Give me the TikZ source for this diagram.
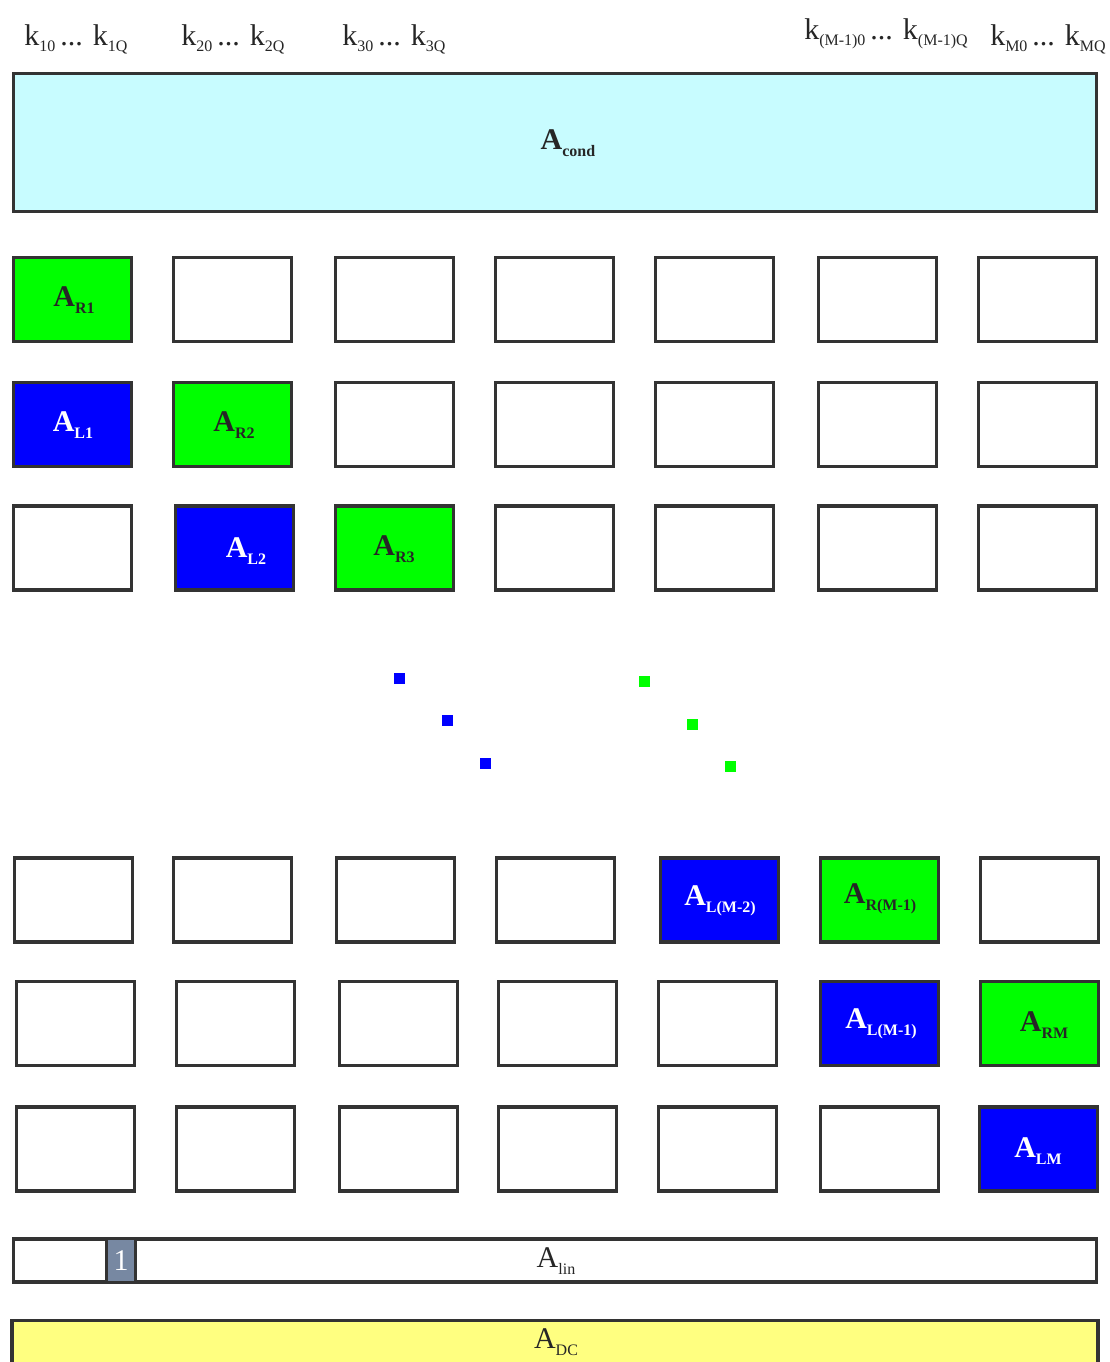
\documentclass[tikz,border=0pt]{standalone}
\usepackage{fontspec}
\setmainfont{Liberation Serif}
\definecolor{edge}{HTML}{333333}
\definecolor{condc}{HTML}{C8FCFF}
\definecolor{gr}{HTML}{00FF00}
\definecolor{bl}{HTML}{0000FF}
\definecolor{slate}{HTML}{7788A2}
\definecolor{dcc}{HTML}{FFFF80}
\newcommand\ksub[1]{\raisebox{-6pt}{\fontsize{16}{16}\selectfont #1}}
\newcommand\klab[2]{k\ksub{#1}\,... k\ksub{#2}}
\newcommand\Alab[1]{\textbf{A\raisebox{-7pt}{\fontsize{16}{16}\selectfont #1}}}
\begin{document}
\begin{tikzpicture}[x=1pt,y=-1pt,
  cell/.style={draw=edge,line width=3.5pt,minimum width=118pt,minimum height=84pt,inner sep=0pt,fill=white},
  gcell/.style={cell,fill=gr},
  bcell/.style={cell,fill=bl},
  glab/.style={text=black!85,font=\fontsize{30}{30}\selectfont,inner sep=0pt},
  blab/.style={text=white,font=\fontsize{30}{30}\selectfont,inner sep=0pt},
  ktext/.style={font=\fontsize{30}{30}\selectfont,anchor=base,inner sep=0pt,text=black!85},
  band/.style={draw=edge,line width=3.5pt},
  dot/.style={minimum size=11pt,inner sep=0pt}]
\useasboundingbox (0,0) rectangle (1109,1362);
% top labels
\node[ktext] (k1) at (76,46) {\klab{10}{1Q}};
\node[ktext] (k2) at (233,46) {\klab{20}{2Q}};
\node[ktext] (k3) at (394,46) {\klab{30}{3Q}};
\node[ktext] (kM1) at (886,40) {\klab{(M-1)0}{(M-1)Q}};
\node[ktext] (kM) at (1048,46) {\klab{M0}{MQ}};
% A cond
\node[band,fill=condc,minimum width=1083pt,minimum height=138pt,inner sep=0pt] (cond) at (555,142.5) {};
\node[glab] (condlab) at (568,143) {\Alab{cond}};
% rows
\foreach \r/\yc/\xs in {1/299.5/{12,172,334,494,654,817,977},
                        2/424.5/{12,172,334,494,654,817,977},
                        3/548/{12,174,334,494,654,817,977},
                        4/900/{13,172,335,495,659,819,979},
                        5/1023.5/{15,175,338,497,657,819,979},
                        6/1149/{15,175,338,497,657,819,978}}{
  \foreach \x [count=\c] in \xs {
    \node[cell] (c\r-\c) at (\x+60.5,\yc) {};
  }
}
% colored cells
\node[gcell] (AR1) at (c1-1) {};
\node[bcell] (AL1) at (c2-1) {};
\node[gcell] (AR2) at (c2-2) {};
\node[bcell] (AL2) at (c3-2) {};
\node[gcell] (AR3) at (c3-3) {};
\node[bcell] (ALM2) at (c4-5) {};
\node[gcell] (ARM1) at (c4-6) {};
\node[bcell] (ALM1) at (c5-6) {};
\node[gcell] (ARM) at (c5-7) {};
\node[bcell] (ALM) at (c6-7) {};
% labels
\node[glab] (tAR1) at (74,300) {\Alab{R1}};
\node[blab] (tAL1) at (73,425) {\Alab{L1}};
\node[glab] (tAR2) at (234,425) {\Alab{R2}};
\node[blab] (tAL2) at (246,551) {\Alab{L2}};
\node[glab] (tAR3) at (394,549) {\Alab{R3}};
\node[blab] (tALM2) at (720,901) {\Alab{L(M-2)}};
\node[glab] (tARM1) at (880,899) {\Alab{R(M-1)}};
\node[blab] (tALM1) at (881,1024) {\Alab{L(M-1)}};
\node[glab] (tARM) at (1044,1025) {\Alab{RM}};
\node[blab] (tALM) at (1038,1151) {\Alab{LM}};
% dots
\node[dot,fill=bl] (b1) at (399,678) {};
\node[dot,fill=bl] (b2) at (447,720) {};
\node[dot,fill=bl] (b3) at (485,763) {};
\node[dot,fill=gr] (g1) at (644,681) {};
\node[dot,fill=gr] (g2) at (692,724) {};
\node[dot,fill=gr] (g3) at (730,766) {};
% A lin
\node[band,fill=white,minimum width=1083pt,minimum height=43pt,inner sep=0pt] (lin) at (555,1260.5) {};
\node[draw=edge,line width=2.5pt,fill=slate,minimum width=29pt,minimum height=43pt,inner sep=0pt,text=white,font=\fontsize{30}{30}\selectfont] (one) at (121,1260.5) {1};
\node[inner sep=0pt,text=black!85,font=\fontsize{30}{30}\selectfont] (linlab) at (556,1261) {A\raisebox{-7pt}{\fontsize{16}{16}\selectfont lin}};
% A DC
\draw[band,fill=dcc] (12,1380) |- (1098,1320.5) -- (1098,1380);
\node[inner sep=0pt,text=black!85,font=\fontsize{30}{30}\selectfont] (dclab) at (556,1342) {A\raisebox{-7pt}{\fontsize{16}{16}\selectfont DC}};
\end{tikzpicture}
\end{document}
